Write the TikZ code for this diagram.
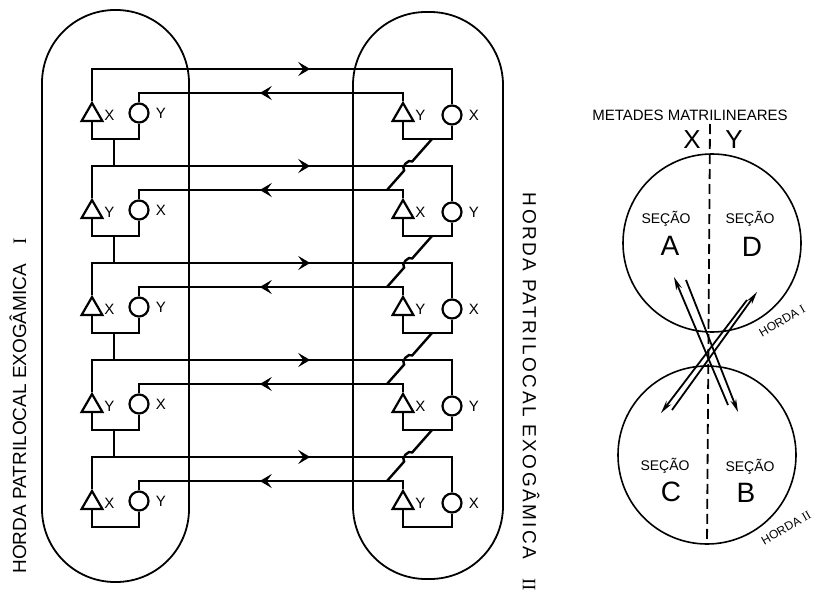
\documentclass[tikz,border=0pt]{standalone}
\usepackage{fontspec}
\setmainfont{Liberation Sans}
\newfontfamily\numfont{Liberation Serif}
\usetikzlibrary{arrows.meta,shapes.geometric,positioning,calc,decorations.markings}
\tikzset{
	male/.style={
		regular polygon,
		regular polygon sides=3,
		draw,
		line width=2.2,
		fill=white,
		minimum size=24,
		inner sep=0
	},
	female/.style={
		circle,
		draw,
		line width=2.2,
		fill=white,
		minimum size=19,
		inner sep=0
	},
	wire/.style={
		line width=2.4,
		line join=miter
	},
	horda/.style={
		rectangle,
		draw,
		line width=1.8,
		rounded corners=73,
		minimum width=147
	},
	sexo/.style={
		font=\fontsize{15}{15}\selectfont,
		inner sep=0
	},
	flow/.style={
		postaction={decorate},
		decoration={markings,
			mark=at position #1 with {\arrow{Stealth[length=12pt,width=14pt,inset=5pt]}}}
	},
	seccao/.style={
		circle,
		draw,
		line width=1.6,
		minimum size=178,
		inner sep=0
	},
	secao/.style={
		font=\fontsize{14}{14}\selectfont,
		inner sep=0
	},
	letra/.style={
		font=\fontsize{28}{28}\selectfont,
		inner sep=0
	},
	troca/.style={
		line width=1.8,
		-{Stealth[length=13pt,width=6pt]}
	},
	titulo/.style={
		font=\fontsize{19}{19}\selectfont,
		inner sep=0
	},
	hordinha/.style={
		font=\fontsize{12}{12}\selectfont,
		inner sep=0,
		rotate=30
	}
}

\begin{document}
\begin{tikzpicture}[x=1pt,y=-1pt]
	\useasboundingbox (0,0) rectangle (819,594);
	\node[horda, minimum height=572] (hordaI) at (115.5,296) {};
	\node[horda, minimum height=567, minimum width=150] (hordaII) at (428,295.5) {};
	\foreach \k/\ma/\fe in {0/X/Y,1/Y/X,2/X/Y,3/Y/X,4/X/Y}{
		\pgfmathsetmacro{\yt}{69+97*\k}
		\node[male] (lm\k) at (92,\yt+46) {};
		\node[female] (lf\k) at (139,\yt+44) {};
		\node[sexo, right=4pt of lm\k.east] (lmt\k) {\ma};
		\node[sexo, right=6pt of lf\k.east] (lft\k) {\fe};
		\node[male] (rm\k) at (403,\yt+46) {};
		\node[female] (rf\k) at (452,\yt+46) {};
		\node[sexo, right=4pt of rm\k.east] (rmt\k) {\fe};
		\node[sexo, right=6pt of rf\k.east] (rft\k) {\ma};
		\coordinate (lu\k) at (92,\yt);
		\coordinate (ru\k) at (452,\yt);
		\coordinate (li\k) at (139,\yt+24);
		\coordinate (ri\k) at (403,\yt+24);
		\coordinate (lb\k) at (92,\yt+70);
		\coordinate (rb\k) at (403,\yt+70);
		\coordinate (lj\k) at (114,\yt+70);
		\coordinate (rj\k) at (432,\yt+70);
		\coordinate (re\k) at (387,\yt+24);
		\draw[wire, flow=250pt] (lm\k.corner 1) -- (lu\k) -- (ru\k) -- (rf\k.north);
		\draw[wire, flow=151pt] (rm\k.corner 1) -- (ri\k) -- (li\k) -- (lf\k.north);
		\draw[wire] (lm\k.south) -- (lb\k) -| (lf\k.south);
		\draw[wire] (rm\k.south) -- (rb\k) -| (rf\k.south);
	}
	\foreach \k [evaluate=\k as \n using int(\k+1)] in {0,...,3}{
		\draw[wire] (lj\k) -- (lj\k |- lu\n);
		\draw[wire] (rj\k) -- ($(rj\k)!0.44!(re\n)$) to[bend right=90] ($(rj\k)!0.62!(re\n)$) -- (re\n);
	}
	\node[titulo, rotate=90] (tituloI) at (18,406) {HORDA PATRILOCAL EXOGÂMICA\quad{\numfont I}};
	\node[titulo, rotate=-90] (tituloII) at (531,392) {\addfontfeature{LetterSpace=13}HORDA PATRILOCAL EXOGÂMICA\quad{\numfont II}};
	% metades e secoes
	\node[seccao] (hI) at (712,243) {};
	\node[seccao] (hII) at (707,455) {};
	\node[secao, font=\fontsize{15}{15}\selectfont] (metades) at (690,115) {METADES MATRILINEARES};
	\node[letra, font=\fontsize{26}{26}\selectfont] (mx) at (692,140) {X};
	\node[letra, font=\fontsize{26}{26}\selectfont] (my) at (734,140) {Y};
	\coordinate (mtop) at (710,124);
	\draw[line width=1.8, dash pattern=on 10pt off 5pt] (mtop) -- (hII.south);
	\node[secao] (sA) at (666,219) {SEÇÃO};
	\node[letra] (lA) at (670,246) {A};
	\node[secao] (sD) at (750,219) {SEÇÃO};
	\node[letra] (lD) at (752,247) {D};
	\node[secao] (sC) at (665,466) {SEÇÃO};
	\node[letra] (lC) at (671,492) {C};
	\node[secao] (sB) at (750,467) {SEÇÃO};
	\node[letra] (lB) at (746,493) {B};
	\coordinate (a1) at (728,405);
	\coordinate (a2) at (674,277);
	\coordinate (b1) at (686,280);
	\coordinate (b2) at (738,412);
	\coordinate (c1) at (672,410);
	\coordinate (c2) at (757,292);
	\coordinate (d1) at (747,300);
	\coordinate (d2) at (661,413);
	\draw[troca] (a1) -- (a2);
	\draw[troca] (b1) -- (b2);
	\draw[troca] (c1) -- (c2);
	\draw[troca] (d1) -- (d2);
	\node[hordinha] (hordaIt) at (782,321) {HORDA {\numfont I}};
	\node[hordinha] (hordaIIt) at (786,528) {HORDA {\numfont II}};
\end{tikzpicture}
\end{document}
